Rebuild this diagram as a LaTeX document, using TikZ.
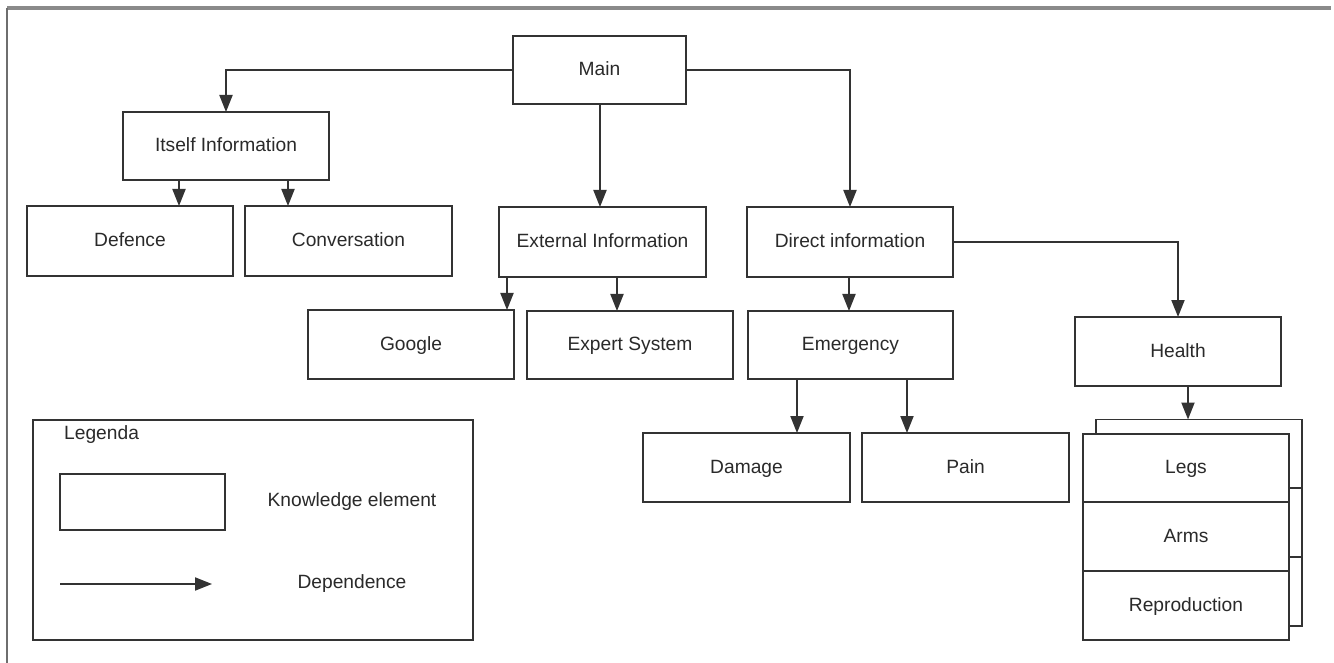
\documentclass[tikz,border=0pt]{standalone}
\usepackage{fontspec}
\setmainfont{Liberation Sans}
\usetikzlibrary{arrows.meta}
\definecolor{ln}{HTML}{333333}
\definecolor{tx}{HTML}{2A2A2A}
\definecolor{frm}{HTML}{8A8A8A}
\tikzset{
  box/.style={draw=ln, line width=1.8pt, fill=white, inner sep=0pt, outer sep=0pt,
    text=tx, font=\fontsize{19.2}{23}\selectfont, text height=15.5pt, text depth=4pt},
  dep/.style={draw=ln, line width=1.9pt, -{Triangle[width=13pt,length=17pt]}},
  lbl/.style={text=tx, font=\fontsize{19.2}{23}\selectfont, inner sep=0pt}
}
\begin{document}
\begin{tikzpicture}[x=1pt,y=-1pt]
\useasboundingbox (0,0) rectangle (1334,663);
\fill[white] (0,0) rectangle (1334,663);
% frame
\draw[frm, line width=4.5pt] (7,8) -- (1331,8);
\draw[frm!80!black, line width=2pt] (7,8) -- (7,663);

% nodes
\node[box, minimum width=173, minimum height=68] (main) at (599.5,70) {Main};
\node[box, minimum width=206, minimum height=68] (itself) at (226,146) {Itself Information};
\node[box, minimum width=206, minimum height=70] (defence) at (130,241) {Defence};
\node[box, minimum width=207, minimum height=70] (conv) at (348.5,241) {Conversation};
\node[box, minimum width=207, minimum height=70] (ext) at (602.5,242) {External Information};
\node[box, minimum width=206, minimum height=70] (direct) at (850,242) {Direct information};
\node[box, minimum width=206, minimum height=69] (google) at (411,344.5) {Google};
\node[box, minimum width=206, minimum height=68] (expert) at (630,345) {Expert System};
\node[box, minimum width=205, minimum height=68] (emerg) at (850.5,345) {Emergency};
\node[box, minimum width=206, minimum height=69] (health) at (1178,351.5) {Health};
\node[box, minimum width=207, minimum height=69] (damage) at (746.5,467.5) {Damage};
\node[box, minimum width=207, minimum height=69] (pain) at (965.5,467.5) {Pain};

% stacked shadows
\node[box, minimum width=206, minimum height=69] (legsb) at (1199,454) {};
\node[box, minimum width=206, minimum height=69] (armsb) at (1199,522.5) {};
\node[box, minimum width=206, minimum height=69] (reprob) at (1199,591.5) {};
\node[box, minimum width=206, minimum height=68] (legs) at (1186,468) {Legs};
\node[box, minimum width=206, minimum height=69] (arms) at (1186,536.5) {Arms};
\node[box, minimum width=206, minimum height=69] (repro) at (1186,605.5) {Reproduction};

% legend
\node[box, minimum width=440, minimum height=220] (legend) at (253,530) {};
\node[lbl, anchor=west] (legt) at (64,435) {Legenda};
\node[box, minimum width=165, minimum height=56] (legbox) at (142.5,502) {};
\node[lbl] (legk) at (352,502) {Knowledge element};
\coordinate (arra) at (60,584);
\coordinate (arrb) at (212,584);
\draw[dep] (arra) -- (arrb);
\node[lbl] (legd) at (352,584) {Dependence};

% connectors
\draw[dep] (main.west) -| (itself.north);
\draw[dep] (main.south -| 600,0) -- (ext.north -| 600,0);
\draw[dep] (main.east) -| (direct.north);
\draw[dep] (itself.south -| 179,0) -- (defence.north -| 179,0);
\draw[dep] (itself.south -| 288,0) -- (conv.north -| 288,0);
\draw[dep] (ext.south -| 507,0) -- (google.north -| 507,0);
\draw[dep] (ext.south -| 617,0) -- (expert.north -| 617,0);
\draw[dep] (direct.south -| 849,0) -- (emerg.north -| 849,0);
\draw[dep] (direct.east) -| (health.north);
\draw[dep] (emerg.south -| 797,0) -- (damage.north -| 797,0);
\draw[dep] (emerg.south -| 907,0) -- (pain.north -| 907,0);
\draw[dep] (health.south -| 1188,0) -- (legsb.north -| 1188,0);
\end{tikzpicture}
\end{document}
